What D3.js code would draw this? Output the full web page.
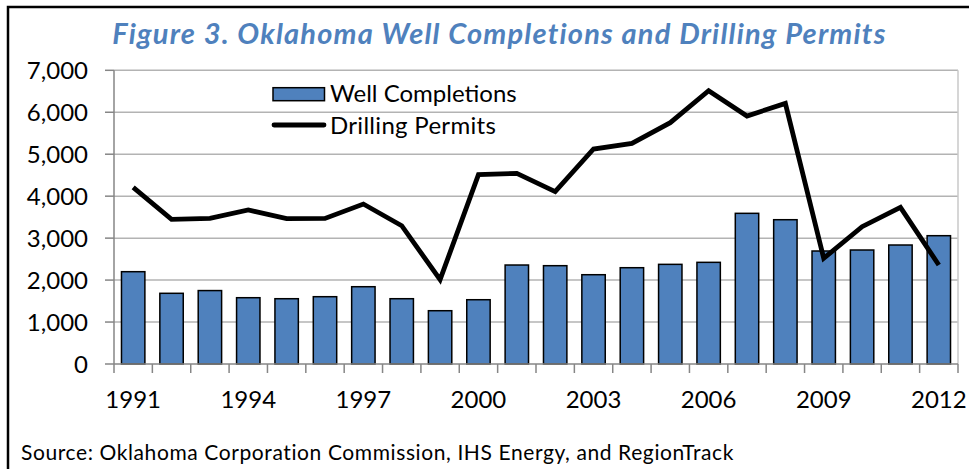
<!DOCTYPE html>
<html>
<head>
<meta charset="utf-8">
<script src="https://cdn.jsdelivr.net/npm/d3@7"></script>
<style>
  body { margin: 0; background: #fff; }
  svg { display: block; font-family: Lato, "Open Sans", sans-serif; }
</style>
</head>
<body>
<svg id="chart" width="969" height="469"></svg>
<script>
// datos
const years = d3.range(1991, 2013).map(String);
const completions = [2200, 1685, 1750, 1580, 1556, 1604, 1842, 1556, 1270, 1532,
  2359, 2343, 2128, 2295, 2375, 2423, 3591, 3439, 2693, 2717, 2836, 3058];
const permits = [4211, 3448, 3472, 3670, 3463, 3470, 3813, 3296, 2010, 4512,
  4543, 4107, 5124, 5259, 5751, 6514, 5910, 6212, 2519, 3273, 3734, 2359];
const yTicks = [0, 1000, 2000, 3000, 4000, 5000, 6000, 7000];
const xLabels = ["1991", "1994", "1997", "2000", "2003", "2006", "2009", "2012"];

const svg = d3.select("#chart");
const pLeft = 114, pRight = 958, pTop = 70.3, pBottom = 364;

// marco exterior (cortado por la ventana)
svg.append("rect")
  .attr("x", 8).attr("y", 7).attr("width", 1100).attr("height", 600)
  .attr("fill", "none").attr("stroke", "#000").attr("stroke-width", 2.5);

const x = d3.scaleBand().domain(years).range([pLeft, pRight]).paddingInner(0.39).paddingOuter(0.195);
const xb = d3.scaleBand().domain(years).range([pLeft, pRight]); // para ticks
const y = d3.scaleLinear().domain([0, 7000]).range([pBottom, pTop]);

// grilla
svg.append("g").selectAll("line")
  .data(yTicks.slice(1))
  .enter().append("line")
  .attr("x1", pLeft).attr("x2", pRight)
  .attr("y1", d => y(d)).attr("y2", d => y(d))
  .attr("stroke", "#b3b3b3").attr("stroke-width", 1.5);

// borde derecho del area
svg.append("line")
  .attr("x1", pRight).attr("x2", pRight).attr("y1", pTop).attr("y2", pBottom)
  .attr("stroke", "#c8c8c8").attr("stroke-width", 1.5);

// barras
svg.append("g").selectAll("rect")
  .data(completions)
  .enter().append("rect")
  .attr("x", (d, i) => x(years[i]))
  .attr("width", x.bandwidth())
  .attr("y", d => y(d))
  .attr("height", d => y(0) - y(d))
  .attr("fill", "#4f81bd")
  .attr("stroke", "#000")
  .attr("stroke-width", 1.5);

// ejes
const axisColor = "#868686";
svg.append("line")
  .attr("x1", pLeft).attr("x2", pLeft).attr("y1", pTop).attr("y2", pBottom)
  .attr("stroke", axisColor).attr("stroke-width", 1.5);
svg.append("line")
  .attr("x1", pLeft).attr("x2", pRight).attr("y1", pBottom).attr("y2", pBottom)
  .attr("stroke", axisColor).attr("stroke-width", 1.5);

svg.append("g").selectAll("line")
  .data(yTicks)
  .enter().append("line")
  .attr("x1", pLeft - 9).attr("x2", pLeft)
  .attr("y1", d => y(d)).attr("y2", d => y(d))
  .attr("stroke", axisColor).attr("stroke-width", 1.5);

const bounds = years.map(d => xb(d)).concat([pRight]);
svg.append("g").selectAll("line")
  .data(bounds)
  .enter().append("line")
  .attr("x1", d => d).attr("x2", d => d)
  .attr("y1", pBottom).attr("y2", pBottom + 9)
  .attr("stroke", axisColor).attr("stroke-width", 1.5);

svg.append("g").selectAll("text")
  .data(yTicks)
  .enter().append("text")
  .attr("x", 88)
  .attr("y", d => y(d))
  .attr("dy", "0.36em")
  .attr("text-anchor", "end")
  .attr("font-size", 24)
  .attr("fill", "#000")
  .text(d3.format(","));

svg.append("g").selectAll("text")
  .data(xLabels)
  .enter().append("text")
  .attr("x", d => xb(d) + xb.bandwidth() / 2)
  .attr("y", 408)
  .attr("text-anchor", "middle")
  .attr("font-size", 24)
  .attr("fill", "#000")
  .text(d => d);

// linea de permisos
const line = d3.line()
  .x((d, i) => xb(years[i]) + xb.bandwidth() / 2)
  .y(d => y(d));
svg.append("path")
  .datum(permits)
  .attr("d", line)
  .attr("fill", "none")
  .attr("stroke", "#000")
  .attr("stroke-width", 4.8)
  .attr("stroke-linejoin", "miter");

// leyenda
const lg = svg.append("g");
lg.append("rect")
  .attr("x", 273).attr("y", 87.7).attr("width", 51.5).attr("height", 13)
  .attr("fill", "#4f81bd").attr("stroke", "#000").attr("stroke-width", 1.5);
lg.append("text")
  .attr("x", 330).attr("y", 102).attr("font-size", 24).text("Well Completions");
lg.append("line")
  .attr("x1", 274).attr("x2", 324).attr("y1", 125).attr("y2", 125)
  .attr("stroke", "#000").attr("stroke-width", 4.8).attr("stroke-linecap", "round");
lg.append("text")
  .attr("x", 330).attr("y", 133.5).attr("font-size", 24)
  .attr("letter-spacing", 0.3).text("Drilling Permits");

// titulo
svg.append("text")
  .attr("x", 499.5).attr("y", 44)
  .attr("text-anchor", "middle")
  .attr("font-size", 29)
  .attr("letter-spacing", 1.2)
  .attr("font-weight", "bold")
  .attr("font-style", "italic")
  .attr("fill", "#4f81bd")
  .text("Figure 3. Oklahoma Well Completions and Drilling Permits");

// fuente
svg.append("text")
  .attr("x", 21).attr("y", 460)
  .attr("font-size", 21)
  .attr("letter-spacing", 0.6)
  .attr("fill", "#000")
  .text("Source: Oklahoma Corporation Commission, IHS Energy, and RegionTrack");
</script>
</body>
</html>
